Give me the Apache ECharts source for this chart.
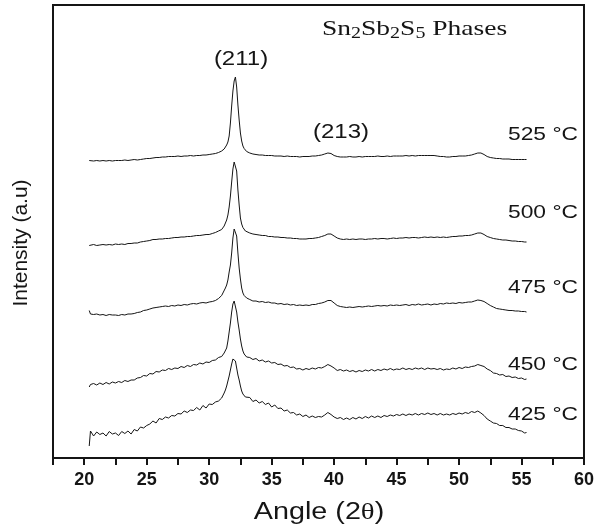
<!DOCTYPE html>
<html>
<head>
<meta charset="utf-8">
<script src="https://cdn.jsdelivr.net/npm/echarts@6/dist/echarts.min.js"></script>
<style>html,body{margin:0;padding:0;background:#fff}#c{width:597px;height:530px}</style>
</head>
<body>
<div id="c"></div>
<script>
// 2-theta sampling positions (degrees)
const angles = [
  20.4,20.5,20.75,21,21.25,21.5,21.75,22,22.25,22.5,22.75,
  23,23.25,23.5,23.75,24,24.25,24.5,24.75,25,25.25,
  25.5,25.75,26,26.25,26.5,26.75,27,27.25,27.5,27.75,
  28,28.25,28.5,28.75,29,29.25,29.5,29.75,30,30.25,
  30.5,30.75,31,
  31.1,31.2,31.3,31.4,31.5,31.6,31.7,31.8,31.9,32,32.1,32.2,32.3,32.4,32.5,32.6,32.7,32.8,32.9,33,
  33.25,33.5,33.75,34,34.25,34.5,34.75,35,
  35.25,35.5,35.75,36,36.25,36.5,36.75,37,
  37.25,37.5,37.75,38,38.25,38.5,38.75,39,
  39.25,39.5,39.75,40,40.25,40.5,40.75,41,
  41.25,41.5,41.75,42,42.25,42.5,42.75,43,
  43.25,43.5,43.75,44,44.25,44.5,44.75,45,
  45.25,45.5,45.75,46,46.25,46.5,46.75,47,
  47.25,47.5,47.75,48,48.25,48.5,48.75,49,
  49.25,49.5,49.75,50,50.25,50.5,50.75,51,
  51.25,51.5,51.75,52,52.25,52.5,52.75,53,
  53.25,53.5,53.75,54,54.25,54.5,54.75,55,
  55.25,55.4
];

const temps = ['525 °C','500 °C','475 °C','450 °C','425 °C'];
const peakLabels = ['(211)','(213)'];
const xTickLabels = ['20','25','30','35','40','45','50','55','60'];

// stacked (offset) intensities, a.u.
const i525 = [
  297.5,297.5,297,297.5,297,297.5,297,297.5,297,297.5,297.5,
  297.5,298,297.5,298,298.5,298,298.5,299,299.5,299.5,
  300,300.5,300.5,301,301,301.5,301.5,301.5,302,301.5,
  302,302,302.5,302,302.5,302.5,303,303,303.5,304,
  304.5,305.5,307,
  308,309,311,313,316,322,335,352,367,377,381,371,353,338,325,317,312,309.5,308,306.5,
  305,304,303.5,303,303,302.5,302.5,302.5,
  302,302,302,301.5,302,301.5,301.5,301.5,
  301,301.5,301.5,301.5,302,302,302.5,303,
  304,305,304.5,302.5,301.5,301,301,301,
  301.5,301,301,301.5,301,301.5,301.5,301.5,
  301.5,302,301.5,301.5,302,301.5,302,302,
  302,302,302.5,302,302.5,302,302.5,302.5,
  302.5,302.5,302.5,302.5,302,301.5,301.5,301,
  301,301.5,301.5,302,302,302,302.5,303,
  304,305,305,303.5,301.5,300.5,300,299.5,
  299.5,299,299,299,298.5,298.5,298.5,298.5,
  298.5,298.5
];
const i500 = [
  212.5,212.5,213.5,212.5,213,213.5,213,213.5,213,214,213.5,
  214,213.5,214.5,214.5,215,215,216,216.5,217,217.5,
  218.5,218.5,219,219,219.5,219.5,220,220.5,220.5,221,
  221,221.5,221.5,222,222.5,222.5,223,223.5,223.5,224.5,
  225.5,227,228.5,
  230,232,235,238,243,251,262,276,289,296,298,287,268,253,240,234,230.5,228.5,227,226,
  225,224,223.5,223,222.5,222.5,221.5,221.5,
  221,221,220.5,220.5,220,220,219.5,219.5,
  219,219,219,219.5,219.5,220,220.5,221.5,
  222.5,224,224,222,220,219,218.5,219,
  218.5,219,218.5,219,219,218.5,219,219,
  219.5,219,219.5,219.5,219,219.5,220,219.5,
  220,220,220.5,220,220.5,220.5,220,220.5,
  221,220.5,221,220.5,221,220.5,221,220.5,
  221,221.5,221.5,222,222,222.5,222.5,223,
  224,225,225,223.5,221.5,220.5,219.5,219,
  218.5,218,218,217.5,217,217,216.5,216.5,
  216,216
];
const i475 = [
  147.5,144,143.5,144,143,143.5,142.5,143.5,143,143,142.5,
  143.5,143,144,144,144.5,145.5,146,147.5,148,149,
  150,150.5,151,151.5,152,151.5,152.5,152,153,152.5,
  153.5,153,154,154.5,154,155,155.5,155,156,156.5,
  157.5,159.5,162.5,
  165,167,170,173,178,186,193,205,220,229,231,222,205,190,179,170,165,162.5,161,160,
  158.5,157,157,156,156.5,155.5,156,155,
  155,154,154.5,153.5,154,153,153.5,152.5,
  153,152.5,153,152.5,153.5,153.5,154.5,155,
  156,157.5,157.5,155,152.5,151.5,151,150.5,
  151,150.5,151,151.5,151,151.5,152,151.5,
  152,152.5,152,152.5,152,153,152.5,153,
  152.5,153,153.5,152.5,153.5,153,154,153,
  153.5,154,153,154,153.5,154.5,154,155,
  154.5,155,154.5,155.5,155,155.5,156,156,
  157,158,157.5,156.5,154.5,152.5,151,149.5,
  149,148.5,148,147.5,147.5,147,147,146.5,
  146.5,146
];
const i450 = [
  71,73.5,74.5,73,75,73.5,75.5,74,76,75,76.5,
  75.5,77.5,76.5,78,78,80,80.5,82.5,82,84.5,
  84,86.5,86,88,87.5,89.5,88.5,90,89.5,91.5,
  90.5,92.5,91.5,93.5,93,95,94,96,95.5,97.5,
  98,100.5,101.5,
  103,105,106,110,117,126,135,146,154,157,156,146,136,128,119,112,107,104,102,101,
  100.5,98.5,99.5,97,98,96,97,95,
  95.5,93.5,94,92,92.5,90.5,91,89,
  89.5,88,89.5,88.5,90,89,90.5,90,
  91.5,93.5,92,90,87.5,88.5,87,88,
  86.5,87.5,86,87.5,86.5,88,87,88.5,
  87,88.5,87.5,89,88,89.5,88,89,
  88.5,90,88.5,89.5,88.5,90,89,90,
  88.5,90,89,89.5,88.5,89.5,88,89,
  88.5,90,89,90.5,89.5,91,90.5,91.5,
  92,93.5,92.5,91.5,89,87.5,85,84.5,
  83,83.5,81.5,82,80.5,81,79.5,80,
  78.5,79
];
const i425 = [
  12,27,22,26,23.5,25,22,26.5,24,25,22.5,
  26.5,24.5,27,24,28.5,27,31,30,32.5,34,
  37,35,39.5,38.5,41,40,42.5,42,44.5,44,
  47,45.5,48,47.5,50.5,48,52.5,50,54,53.5,
  56,57,60,
  62,65,68,72,77,82,88,94,99,100,97,90,83,78,72,67,64,62,61,60,
  60.5,56.5,58,55,56.5,53.5,55,51,
  53,49.5,50,47,48,45,45.5,43,
  44,41.5,43,40.5,42,40.5,41.5,41,
  43,45.5,43.5,41,39.5,40.5,38.5,40,
  38.5,40.5,39,41,39.5,41.5,40,42,
  40.5,42,40.5,42.5,41.5,43,42,43.5,
  42.5,44,42.5,44,43,44.5,43,44.5,
  43.5,45,43.5,44.5,43,44.5,43,44,
  43,44.5,43.5,45,44,45.5,44.5,46.5,
  45.5,47,45,42.5,39,37,35,34.5,
  32.5,32.5,30.5,30.5,29,29,27.5,27,
  25,25.5
];

const seriesVals = [i525, i500, i475, i450, i425];
const INK = '#151515';
const SANS = 'Liberation Sans, Arial, Helvetica, sans-serif';
const SERIF = 'Liberation Serif, Times New Roman, serif';

const chart = echarts.init(document.getElementById('c'), null, {renderer: 'canvas'});

const option = {
  animation: false,
  backgroundColor: '#fff',
  grid: {
    left: 53, right: 11, top: 5, bottom: 72, containLabel: false,
    show: true, borderColor: INK, borderWidth: 2, backgroundColor: 'transparent'
  },
  xAxis: {
    type: 'value', min: 17.5, max: 60, interval: 2.5, position: 'bottom',
    axisLine: {show: true, onZero: false, lineStyle: {color: INK, width: 2}},
    axisTick: {show: true, inside: false, length: 7, lineStyle: {color: INK, width: 2}},
    axisLabel: {
      margin: 13, fontSize: 18, fontWeight: 'bold', fontFamily: SANS, color: INK,
      formatter: v => (xTickLabels.indexOf(String(v)) >= 0 ? String(v) : '')
    },
    splitLine: {show: false}
  },
  yAxis: {
    type: 'value', min: 0, max: 453,
    axisLine: {show: true, onZero: false, lineStyle: {color: INK, width: 2}},
    axisTick: {show: false}, axisLabel: {show: false}, splitLine: {show: false}
  },
  series: seriesVals.map((vals, k) => ({
    name: temps[k],
    type: 'line',
    showSymbol: false, symbol: 'none', silent: true,
    data: angles.map((a, i) => [a, vals[i]]),
    lineStyle: {color: INK, width: 1}
  })),
  graphic: [
    {type: 'text', x: 241, y: 59, scaleX: 1.2, silent: true,
     style: {text: peakLabels[0], fontSize: 20, fontFamily: SANS, fill: INK, align: 'center', verticalAlign: 'middle'}},
    {type: 'text', x: 341, y: 132, scaleX: 1.2, silent: true,
     style: {text: peakLabels[1], fontSize: 20, fontFamily: SANS, fill: INK, align: 'center', verticalAlign: 'middle'}},
    {type: 'text', x: 322, y: 29, scaleX: 1.25, silent: true,
     style: {
       text: 'Sn{s|2}Sb{s|2}S{s|5} Phases', fontSize: 22, fontFamily: SERIF, fill: INK,
       align: 'left', verticalAlign: 'middle',
       rich: {s: {fontSize: 16, fontFamily: SERIF, fill: INK, padding: [10, 0, 0, 0]}}
     }},
    ...temps.map((t, k) => ({
      type: 'text', x: 508, y: [135, 213, 288, 365, 415][k], scaleX: 1.2, silent: true,
      style: {text: t, fontSize: 19, fontFamily: SANS, fill: INK, align: 'left', verticalAlign: 'middle'}
    })),
    {type: 'text', x: 319, y: 513, scaleX: 1.25, silent: true,
     style: {
       text: 'Angle (2{t|θ})', fontSize: 23, fontFamily: SANS, fill: INK, align: 'center', verticalAlign: 'middle',
       rich: {t: {fontSize: 23, fontFamily: SERIF, fill: INK}}
     }},
    {type: 'text', x: 21, y: 243, rotation: Math.PI / 2, silent: true,
     style: {text: 'Intensity (a.u)', fontSize: 21, fontFamily: SANS, fill: INK, align: 'center', verticalAlign: 'middle'}}
  ]
};
chart.setOption(option);
</script>
</body>
</html>
